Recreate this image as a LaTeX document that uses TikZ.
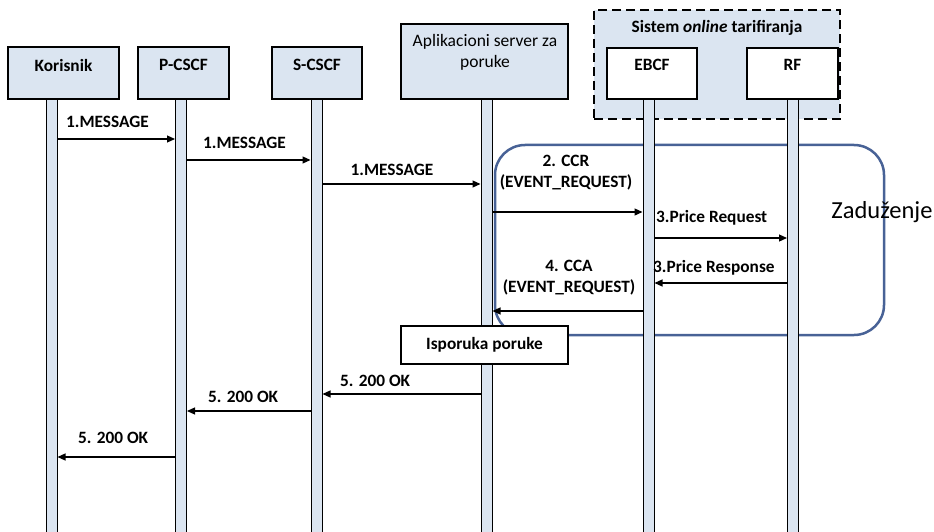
\documentclass[tikz,border=0pt]{standalone}
\usepackage{fontspec}
\setmainfont{Carlito}
\usetikzlibrary{arrows.meta}
\definecolor{lb}{RGB}{219,229,241}
\definecolor{frameblue}{RGB}{72,98,150}
\begin{document}
\begin{tikzpicture}[x=1pt,y=-1pt,
  actor/.style={draw=black, line width=1.3pt, fill=lb, inner sep=0pt, minimum height=52pt},
  ocsbox/.style={draw=black, line width=1.3pt, fill=white, inner sep=0pt, minimum height=51pt},
  life/.style={draw=black, line width=1pt, fill=lb, minimum width=11pt, minimum height=434pt, inner sep=0pt},
  lbl/.style={font=\fontsize{17.3}{21}\selectfont\bfseries, inner sep=0pt},
  plain/.style={font=\fontsize{17.5}{21}\selectfont, inner sep=0pt},
  msg/.style={draw=black, line width=1.2pt, -{Triangle[length=8pt,width=7pt]}},
]
\useasboundingbox (0,0) rectangle (934,532);
% charging frame
\node[draw=frameblue, line width=2.5pt, rounded corners=30pt, minimum width=389pt, minimum height=190pt, inner sep=0pt] (zad) at (689.5,240) {};
% online charging system group
\node[draw=black, dash pattern=on 9pt off 5pt, fill=lb, line width=1.3pt, minimum width=246pt, minimum height=109pt, inner sep=0pt] (ocs) at (717,64.5) {};
\node[lbl] (ocslbl) at (717,28) {Sistem \textit{online} tarifiranja};
% lifelines
\node[life] (L1) at (51.5,316) {};
\node[life] (L2) at (181,316) {};
\node[life] (L3) at (316.5,316) {};
\node[life] (L4) at (486.5,316) {};
\node[life] (L5) at (648.5,316) {};
\node[life] (L6) at (793,316) {};
% heads
\node[actor, minimum width=111pt] (kor) at (63.5,73) {};
\node[lbl] (korlbl) at (63.5,65) {Korisnik};
\node[actor, minimum width=91pt] (pcscf) at (183.5,73) {};
\node[lbl] (pcscflbl) at (183.5,65) {P-CSCF};
\node[actor, minimum width=90pt] (scscf) at (317,73) {};
\node[lbl] (scscflbl) at (317,65) {S-CSCF};
\node[actor, minimum width=167pt, minimum height=75pt] (as) at (484.5,61.5) {};
\node[plain, align=center] (aslbl) at (485,52.5) {Aplikacioni server za\\poruke};
\node[ocsbox, minimum width=90pt] (ebcf) at (652,73.5) {};
\node[lbl] (ebcflbl) at (652,65) {EBCF};
\node[ocsbox, minimum width=91pt] (rf) at (792.5,73.5) {};
\node[lbl] (rflbl) at (792.5,65) {RF};
% delivery box
\node[draw=black, line width=1.3pt, fill=white, minimum width=167pt, minimum height=38pt, inner sep=0pt] (isp) at (484.5,345) {};
\node[lbl] (isplbl) at (484.5,345) {Isporuka poruke};
% messages
\draw[msg] (L1.east |- 0,139) -- (L2.west |- 0,139);
\node[lbl, anchor=west] (m1) at (66,122) {1.MESSAGE};
\draw[msg] (L2.east |- 0,160) -- (L3.west |- 0,160);
\node[lbl, anchor=west] (m2) at (203,143) {1.MESSAGE};
\draw[msg] (L3.east |- 0,184) -- (L4.west |- 0,184);
\node[lbl] (m3) at (392,170) {1.MESSAGE};
\draw[msg] (L4.east |- 0,212) -- (L5.west |- 0,212);
\node[lbl, align=center] (m4) at (566,173) {2. CCR\\(EVENT\_REQUEST)};
\draw[msg] (L5.east |- 0,238) -- (L6.west |- 0,238);
\node[lbl, anchor=west] (m5) at (656,218) {3.Price Request};
\draw[msg] (L6.west |- 0,283) -- (L5.east |- 0,283);
\node[lbl, anchor=west] (m6) at (653,268) {3.Price Response};
\draw[msg] (L5.west |- 0,311) -- (L4.east |- 0,311);
\node[lbl, align=center] (m7) at (569,278) {4. CCA\\(EVENT\_REQUEST)};
\draw[msg] (L4.west |- 0,394) -- (L3.east |- 0,394);
\node[lbl, anchor=west] (m8) at (340,381) {5. 200 OK};
\draw[msg] (L3.west |- 0,411) -- (L2.east |- 0,411);
\node[lbl, anchor=west] (m9) at (208,397) {5. 200 OK};
\draw[msg] (L2.west |- 0,457) -- (L1.east |- 0,457);
\node[lbl, anchor=west] (m10) at (78,438) {5. 200 OK};
% frame label
\node[font=\fontsize{24.5}{28}\selectfont, inner sep=0pt] (zadlbl) at (882,212) {Zaduženje};
\end{tikzpicture}
\end{document}
